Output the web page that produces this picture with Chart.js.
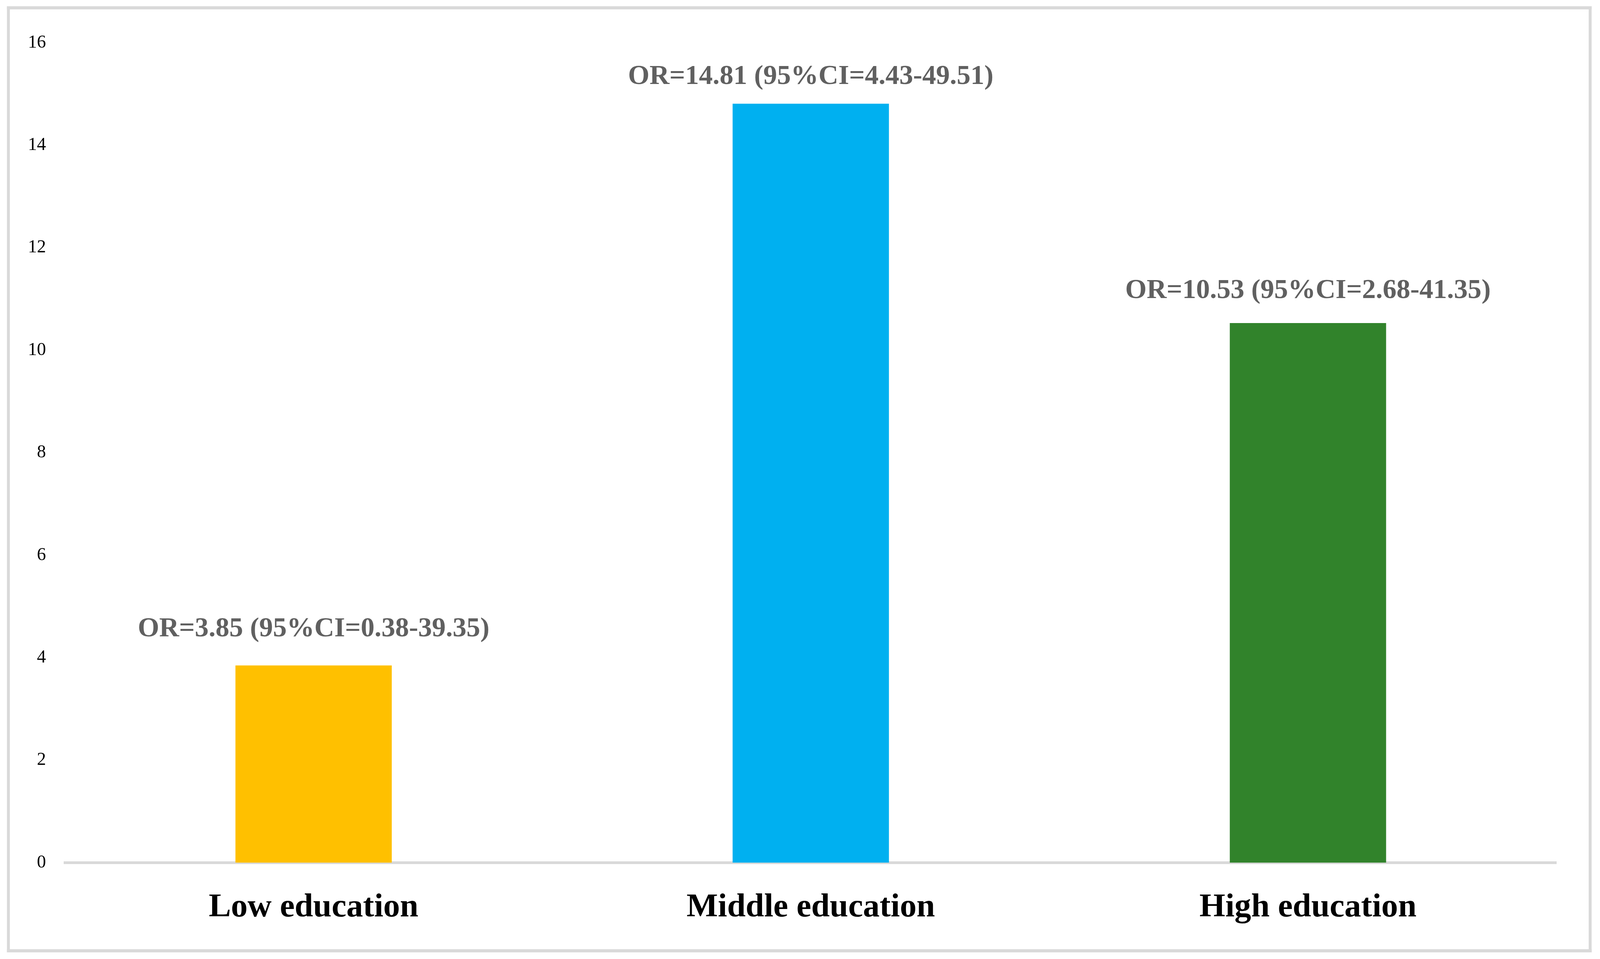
<!DOCTYPE html>
<html>
<head>
<meta charset="utf-8">
<script src="https://cdn.jsdelivr.net/npm/chart.js@4"></script>
<style>
  html, body { margin: 0; padding: 0; background: #ffffff; overflow: hidden; }
  canvas { display: block; }
</style>
</head>
<body>
<canvas id="c"></canvas>
<script>
// ---- data ----
const categories = ['Low education', 'Middle education', 'High education'];
const orValues = [3.85, 14.81, 10.53];
const ciLower = [0.38, 4.43, 2.68];
const ciUpper = [39.35, 49.51, 41.35];
const yTicks = [0, 2, 4, 6, 8, 10, 12, 14, 16];

// ---- styles ----
const barColors = ['#FFC000', '#00B0F0', '#31832B'];
const labelGap = [74, 51, 64];

const orLabels = orValues.map((v, i) =>
  'OR=' + v.toFixed(2) + ' (95%CI=' + ciLower[i].toFixed(2) + '-' + ciUpper[i].toFixed(2) + ')');

// the design is laid out on a 4381 x 2455 grid and mapped onto the actual viewport
const W = window.innerWidth, H = window.innerHeight;
const sx = W / 4381, sy = H / 2455, fs = (sx + sy) / 2;
const cv = document.getElementById('c');
cv.style.width = W + 'px';
cv.style.height = H + 'px';
cv.width = W; cv.height = H;

const serif = '"Liberation Serif", "Times New Roman", serif';

const frame = {
  id: 'frame',
  beforeDraw(chart) {
    const ctx = chart.ctx;
    ctx.save();
    ctx.fillStyle = '#ffffff';
    ctx.fillRect(0, 0, chart.width, chart.height);
    ctx.fillStyle = '#d9d9d9';
    const x0 = 19 * sx, y0 = 16 * sy, x1 = 4358 * sx, y1 = 2438 * sy, tx = 8 * sx, ty = 8 * sy;
    ctx.fillRect(x0, y0, x1 - x0, ty);
    ctx.fillRect(x0, y1 - ty, x1 - x0, ty);
    ctx.fillRect(x0, y0, tx, y1 - y0);
    ctx.fillRect(x1 - tx, y0, tx, y1 - y0);
    ctx.restore();
  }
};

const barLabels = {
  id: 'barLabels',
  afterDatasetsDraw(chart) {
    const ctx = chart.ctx;
    const meta = chart.getDatasetMeta(0);
    ctx.save();
    ctx.font = 'bold ' + (73 * fs) + 'px ' + serif;
    ctx.fillStyle = '#606060';
    ctx.textAlign = 'center';
    ctx.textBaseline = 'alphabetic';
    meta.data.forEach((bar, i) => {
      ctx.fillText(orLabels[i], bar.x, bar.y - labelGap[i] * sy);
    });
    ctx.restore();
  }
};

new Chart(cv, {
  type: 'bar',
  data: {
    labels: categories,
    datasets: [{
      data: orValues,
      backgroundColor: barColors,
      borderWidth: 0,
      barPercentage: 0.3144,
      categoryPercentage: 1.0
    }]
  },
  options: {
    responsive: false,
    animation: false,
    layout: { padding: { left: 78 * sx, right: 119 * sx, top: 109.5 * sy, bottom: 74.5 * sy } },
    plugins: { legend: { display: false }, tooltip: { enabled: false } },
    scales: {
      x: {
        afterFit(scale) { scale.height = 172 * sy; },
        grid: { display: false, drawTicks: false },
        border: { display: true, color: '#d9d9d9', width: 7 * sy },
        ticks: {
          color: '#000000',
          padding: 64 * sy,
          font: { family: serif, size: 88 * fs, weight: 'bold' }
        }
      },
      y: {
        min: 0,
        max: 16,
        afterFit(scale) { scale.width = 100 * sx; },
        afterBuildTicks(scale) { scale.ticks = yTicks.map(v => ({ value: v })); },
        grid: { display: false, drawTicks: false },
        border: { display: false },
        ticks: {
          color: '#000000',
          padding: 52 * sx,
          font: { family: serif, size: 48 * fs }
        }
      }
    }
  },
  plugins: [frame, barLabels]
});
</script>
</body>
</html>
